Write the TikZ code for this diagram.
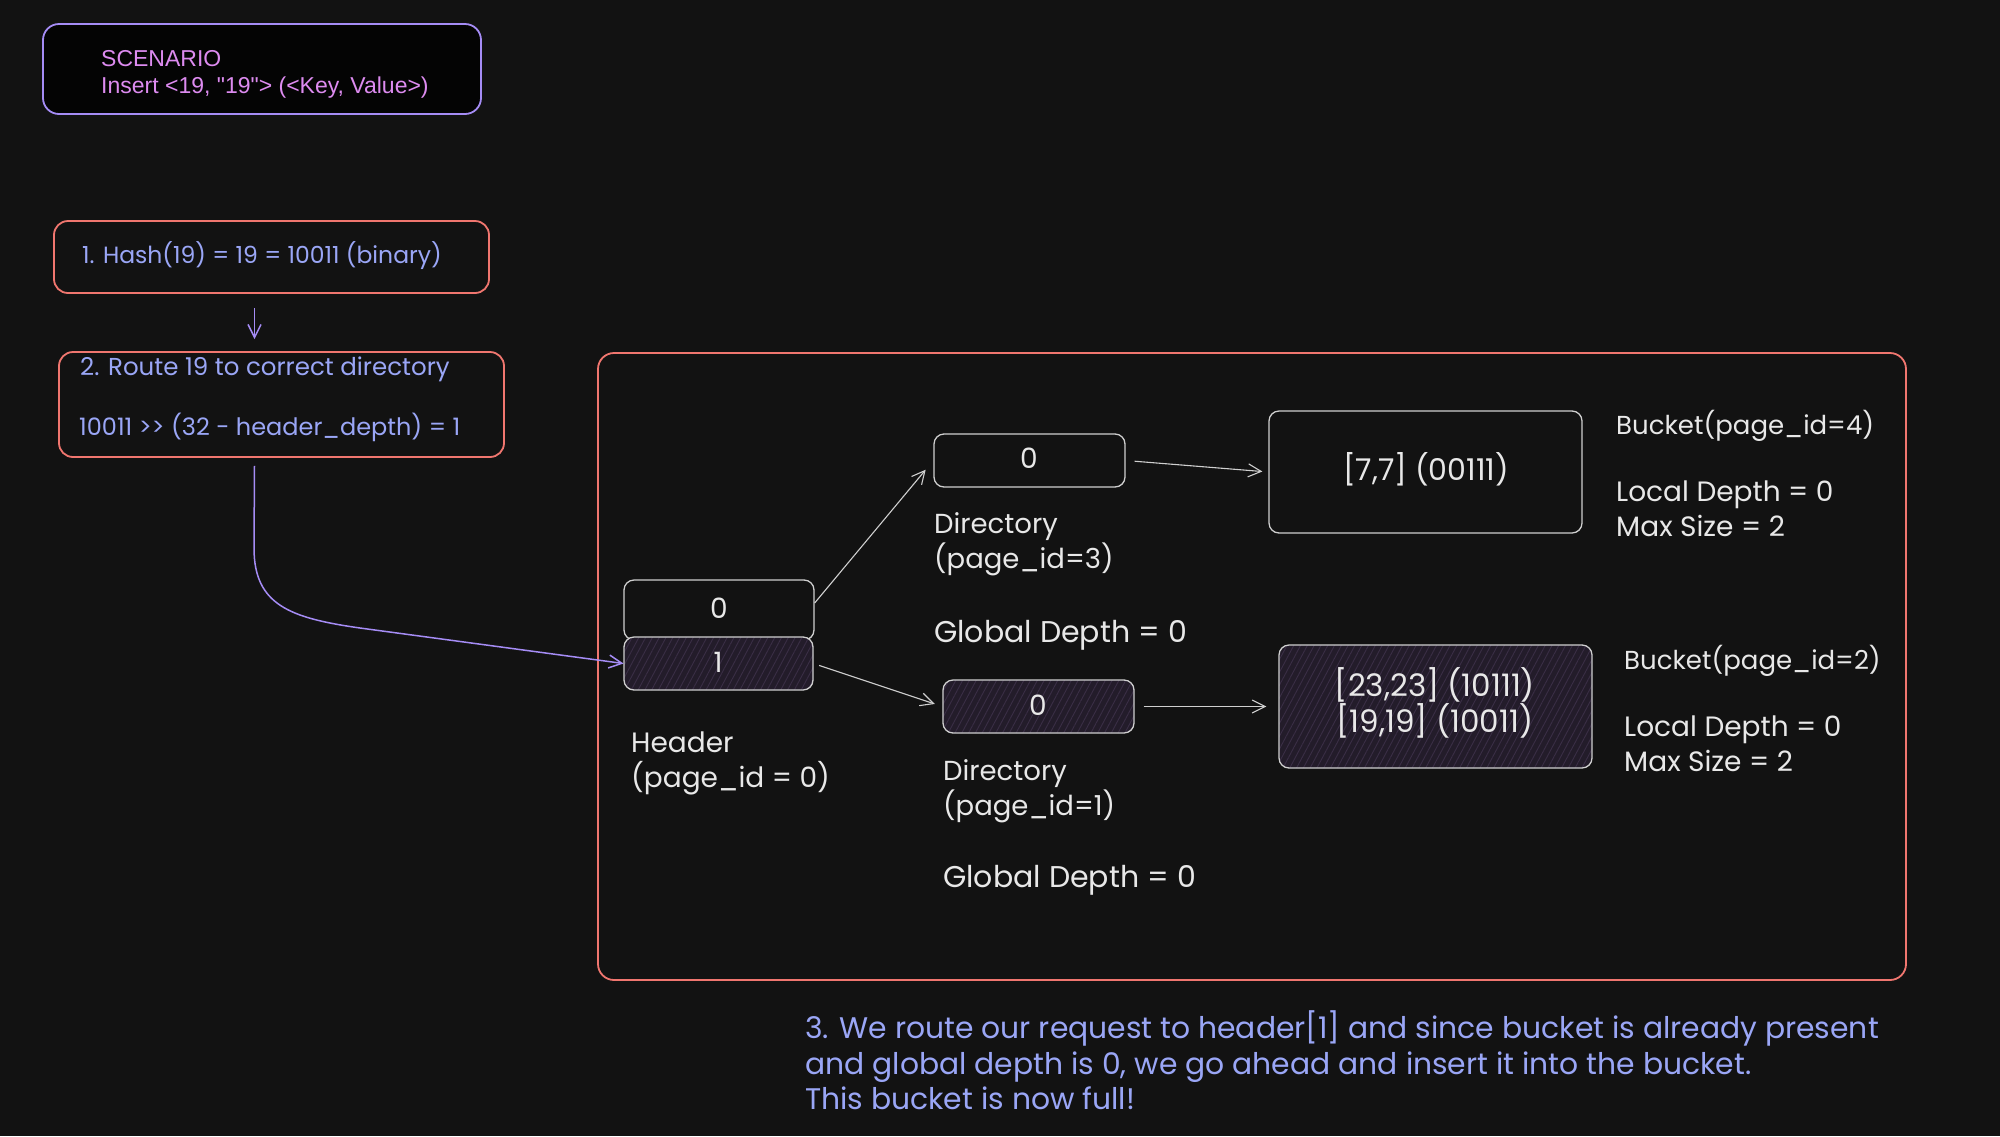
\documentclass[tikz,border=0pt]{standalone}
\usepackage{fontspec}
\setmainfont{Poppins}
\newfontfamily\helv{Liberation Sans}
\usetikzlibrary{arrows.meta,patterns.meta}
\definecolor{bg}{HTML}{121212}
\definecolor{redc}{HTML}{F0766F}
\definecolor{violetc}{HTML}{A58CF5}
\definecolor{pinkc}{HTML}{DD8BF0}
\definecolor{bluec}{HTML}{9AA6F6}
\definecolor{whitec}{HTML}{E8E8E8}
\definecolor{linec}{HTML}{CFCFCF}
\definecolor{hatchbg}{HTML}{231C2A}
\definecolor{hatchln}{HTML}{3A2E45}
\tikzset{
  redbox/.style={draw=redc, line width=1.8pt, rounded corners=14pt},
  violetbox/.style={draw=violetc, line width=1.8pt, rounded corners=16pt, fill=black!80!bg},
  whitebox/.style={draw=linec, line width=1.3pt, rounded corners=10pt},
  hatchbox/.style={whitebox, preaction={fill=hatchbg}, pattern={Lines[angle=62,distance=6pt,line width=0.9pt]}, pattern color=hatchln},
  hand/.style={font=\fontsize{28}{35}\selectfont, text=whitec, inner sep=0pt, align=left},
  hand30/.style={hand, font=\fontsize{30}{35}\selectfont},
  hand26/.style={hand, font=\fontsize{26}{35}\selectfont},
  hand31/.style={hand, font=\fontsize{31}{36}\selectfont},
  bluehand/.style={font=\fontsize{23.5}{28}\selectfont, text=bluec, inner sep=0pt},
  note/.style={font=\fontsize{29.8}{35.5}\selectfont, text=bluec, inner sep=0pt, align=left},
  helvtext/.style={font=\helv\fontsize{23}{27}\selectfont, text=pinkc, inner sep=0pt, align=left},
  whitearrow/.style={draw=linec, line width=1.1pt, -{Straight Barb[length=13pt,width=13pt,line width=1.1pt]}},
  violetarrow/.style={draw=violetc, line width=1.5pt, -{Straight Barb[length=13pt,width=13pt,line width=1.5pt]}}
}
\begin{document}
\begin{tikzpicture}[x=1pt,y=-1pt]
\fill[bg] (0,0) rectangle (2000,1136);
\useasboundingbox (0,0) rectangle (2000,1136);

% scenario
\node[violetbox, minimum width=438pt, minimum height=90pt] (scen) at (262,69) {};
\node[helvtext, anchor=west] (scentext) at (101,74) {SCENARIO\\Insert <19, "19"> (<Key, Value>)};

% step 1
\node[redbox, minimum width=435pt, minimum height=72pt] (hash) at (271.5,257) {};
\node[bluehand, anchor=west] (hashtext) at (82,256) {1. Hash(19) = 19 = 10011 (binary)};

% step 2
\node[redbox, minimum width=445pt, minimum height=105pt] (route) at (281.5,404.5) {};
\node[bluehand, anchor=west, font=\fontsize{24.5}{28}\selectfont] (routeA) at (80,369) {2. Route 19 to correct directory};
\node[bluehand, anchor=west, font=\fontsize{24}{28}\selectfont] (routeB) at (79,427) {10011 >{}> (32 - header\_depth) = 1};

% container
\node[redbox, minimum width=1308pt, minimum height=627pt, rounded corners=16pt] (frame) at (1252,666.5) {};

% header
\node[whitebox, minimum width=190pt, minimum height=60pt] (cell0) at (719,610) {};
\node[hatchbox, minimum width=189pt, minimum height=53pt] (cell1) at (718.5,663.5) {};
\node[hand] (h0) at (719,608) {0};
\node[hand] (h1) at (718,662) {1};
\node[hand, anchor=west] (hlabel) at (631,763.5) {Header\\(page\_id = 0)};

% directories
\node[whitebox, minimum width=191pt, minimum height=53pt] (dir3) at (1029.5,460.5) {};
\node[hand] (d3) at (1029,458) {0};
\node[hand, anchor=west, font=\fontsize{27.5}{35}\selectfont] (d3label) at (934,544.5) {Directory\\(page\_id=3)};
\node[hand30, anchor=west] (g3) at (934,635) {Global Depth = 0};

\node[hatchbox, minimum width=191pt, minimum height=53pt] (dir1) at (1038.5,706.5) {};
\node[hand] (d1) at (1038,705) {0};
\node[hand, anchor=west, font=\fontsize{27.5}{35}\selectfont] (d1label) at (943,791.5) {Directory\\(page\_id=1)};
\node[hand30, anchor=west] (g1) at (943,880) {Global Depth = 0};

% buckets
\node[whitebox, minimum width=313pt, minimum height=122pt] (b4) at (1425.5,472) {};
\node[hand30] (b4text) at (1426,469) {[7,7] (00111)};
\node[hand26, anchor=west] (b4name) at (1616,426) {Bucket(page\_id=4)};
\node[hand, anchor=west] (b4info) at (1616,508.5) {Local Depth = 0\\Max Size = 2};

\node[hatchbox, minimum width=313pt, minimum height=123pt] (b2) at (1435.5,706.5) {};
\node[hand31, align=center] (b2text) at (1435,703) {{[23,23] (10111)}\\{}{[19,19] (10011)}};
\node[hand26, anchor=west] (b2name) at (1624,661) {Bucket(page\_id=2)};
\node[hand, anchor=west] (b2info) at (1624,743.5) {Local Depth = 0\\Max Size = 2};

% note
\node[note, anchor=west] (note) at (805,1060.5) {3. We route our request to header[1] and since bucket is already present\\and global depth is 0, we go ahead and insert it into the bucket.\\This bucket is now full!};

% connectors
\draw[violetarrow, shorten <=14pt, shorten >=12pt] ([xshift=-17pt]hash.south) -- ([xshift=-27pt]route.north);
\draw[violetarrow] ([xshift=-27pt,yshift=-8pt]route.south) -- (254,548) .. controls (254,605) and (290,618) .. (360,628) -- (cell1.west);
\draw[whitearrow, shorten >=12pt] ([yshift=7pt]cell0.east) -- (dir3.west);
\draw[whitearrow, shorten <=6pt, shorten >=8pt] (cell1.east) -- (dir1.west);
\draw[whitearrow, shorten <=9pt, shorten >=6pt] (dir3.east) -- (b4.west);
\draw[whitearrow, shorten <=9pt, shorten >=12pt] (dir1.east) -- (b2.west);
\end{tikzpicture}
\end{document}
